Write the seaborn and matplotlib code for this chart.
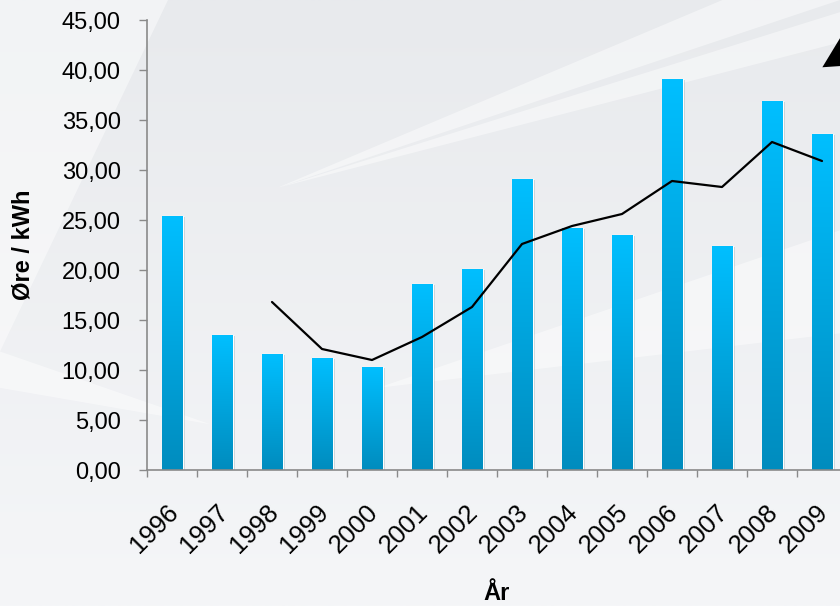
import numpy as np
import pandas as pd
import matplotlib
matplotlib.use("Agg")
import matplotlib.pyplot as plt
import seaborn as sns
from matplotlib.colors import LinearSegmentedColormap
from matplotlib.ticker import FuncFormatter, FixedLocator
from matplotlib.patches import Polygon
from matplotlib.transforms import ScaledTranslation, blended_transform_factory
import matplotlib.patheffects as pe

years = ["1996", "1997", "1998", "1999", "2000", "2001", "2002",
         "2003", "2004", "2005", "2006", "2007", "2008", "2009"]
price = [25.4, 13.5, 11.6, 11.2, 10.3, 18.6, 20.1,
         29.1, 24.2, 23.5, 39.1, 22.4, 36.9, 33.6]
# 3-year average line (starts in 1998)
avg3 = [np.nan, np.nan, 16.8, 12.1, 11.0, 13.3, 16.3,
        22.6, 24.4, 25.6, 28.9, 28.3, 32.8, 30.9]

df = pd.DataFrame({"year": years, "price": price, "avg": avg3})
df["pos"] = np.arange(len(df))

sns.set_style("white")
plt.rcParams["font.family"] = ["Liberation Sans", "DejaVu Sans"]
plt.rcParams["text.color"] = "black"
plt.rcParams["xtick.color"] = "black"
plt.rcParams["ytick.color"] = "black"
plt.rcParams["axes.labelcolor"] = "black"

fig = plt.figure(figsize=(8.4, 6.06), dpi=100)

# background with light rays
bg = fig.add_axes([0, 0, 1, 1], zorder=-10)
bg.set_axis_off()
grad = np.linspace(0, 1, 256).reshape(-1, 1)
bg_cmap = LinearSegmentedColormap.from_list("bg", ["#e8eaed", "#f5f6f8"])
bg.imshow(grad, extent=[0, 1, 0, 1], aspect="auto", cmap=bg_cmap, origin="upper")
rays = [
    [(0.0, 0.42), (0.20, 1.0), (0.0, 1.0)],
    [(0.33, 0.69), (1.0, 0.93), (1.0, 0.98)],
    [(0.33, 0.69), (1.0, 1.0), (0.86, 1.0)],
    [(0.45, 0.36), (1.0, 0.62), (1.0, 0.45)],
    [(0.0, 0.42), (0.25, 0.30), (0.0, 0.36)],
]
for r in rays:
    bg.add_patch(Polygon(r, closed=True, facecolor="white", alpha=0.45, lw=0))
bg.add_patch(Polygon([(0.979, 0.889), (1.0, 0.937), (1.0, 0.891)],
                     closed=True, facecolor="black", lw=0))
bg.set_xlim(0, 1)
bg.set_ylim(0, 1)

ax = fig.add_axes([147 / 840, 136 / 606, 700 / 840, 450 / 606])
ax.patch.set_alpha(0)

sns.barplot(data=df, x="year", y="price", ax=ax, color="#0090c2",
            width=0.42, errorbar=None, saturation=1)

bar_cmap = LinearSegmentedColormap.from_list("bar", ["#008cbe", "#00bfff"])
for p in ax.patches:
    p.set_path_effects([pe.SimplePatchShadow(offset=(2, -1), alpha=0.18),
                        pe.Normal()])
    x0, y0 = p.get_xy()
    w, h = p.get_width(), p.get_height()
    ax.imshow(grad[::-1], extent=[x0, x0 + w, y0, y0 + h], aspect="auto",
              cmap=bar_cmap, origin="upper", zorder=p.get_zorder() + 0.1)

sns.lineplot(data=df, x="pos", y="avg", ax=ax, color="black", lw=1.6,
             zorder=5)

ax.set_xlim(-0.5, len(years) - 0.5)
ax.set_ylim(0, 45)
ax.set_yticks(np.arange(0, 46, 5))
ax.yaxis.set_major_formatter(FuncFormatter(lambda v, _: f"{v:.2f}".replace(".", ",")))

# year labels, rotated, drawn as text so they can sit a bit left of centre
ax.set_xticks(np.arange(len(years)))
ax.set_xticklabels([])
trans = blended_transform_factory(ax.transData, ax.transAxes) + \
    ScaledTranslation(-0.06, -0.30, fig.dpi_scale_trans)
for i, yr in enumerate(years):
    ax.text(i, 0, yr, transform=trans, rotation=45, ha="right", va="top",
            rotation_mode="anchor", fontsize=18.5, clip_on=False)

ax.xaxis.set_minor_locator(FixedLocator(np.arange(-0.5, len(years), 1)))
ax.tick_params(axis="x", which="major", length=0)
ax.tick_params(axis="x", which="minor", length=5, width=1, color="#8a8a8a",
               direction="out", bottom=True)
ax.tick_params(axis="y", length=6, width=1, color="#8a8a8a", direction="out",
               left=True, labelsize=17, pad=13)

for s in ["top", "right"]:
    ax.spines[s].set_visible(False)
for s in ["left", "bottom"]:
    ax.spines[s].set_color("#8a8a8a")
    ax.spines[s].set_linewidth(1.2)

ax.set_xlabel("År", fontsize=17, fontweight="bold", va="bottom")
ax.set_ylabel("Øre / kWh", fontsize=17, fontweight="bold")
ax.yaxis.set_label_coords(-0.16, 0.5)
ax.xaxis.set_label_coords(0.5, -0.30)

fig.savefig("out.png", dpi=100)
